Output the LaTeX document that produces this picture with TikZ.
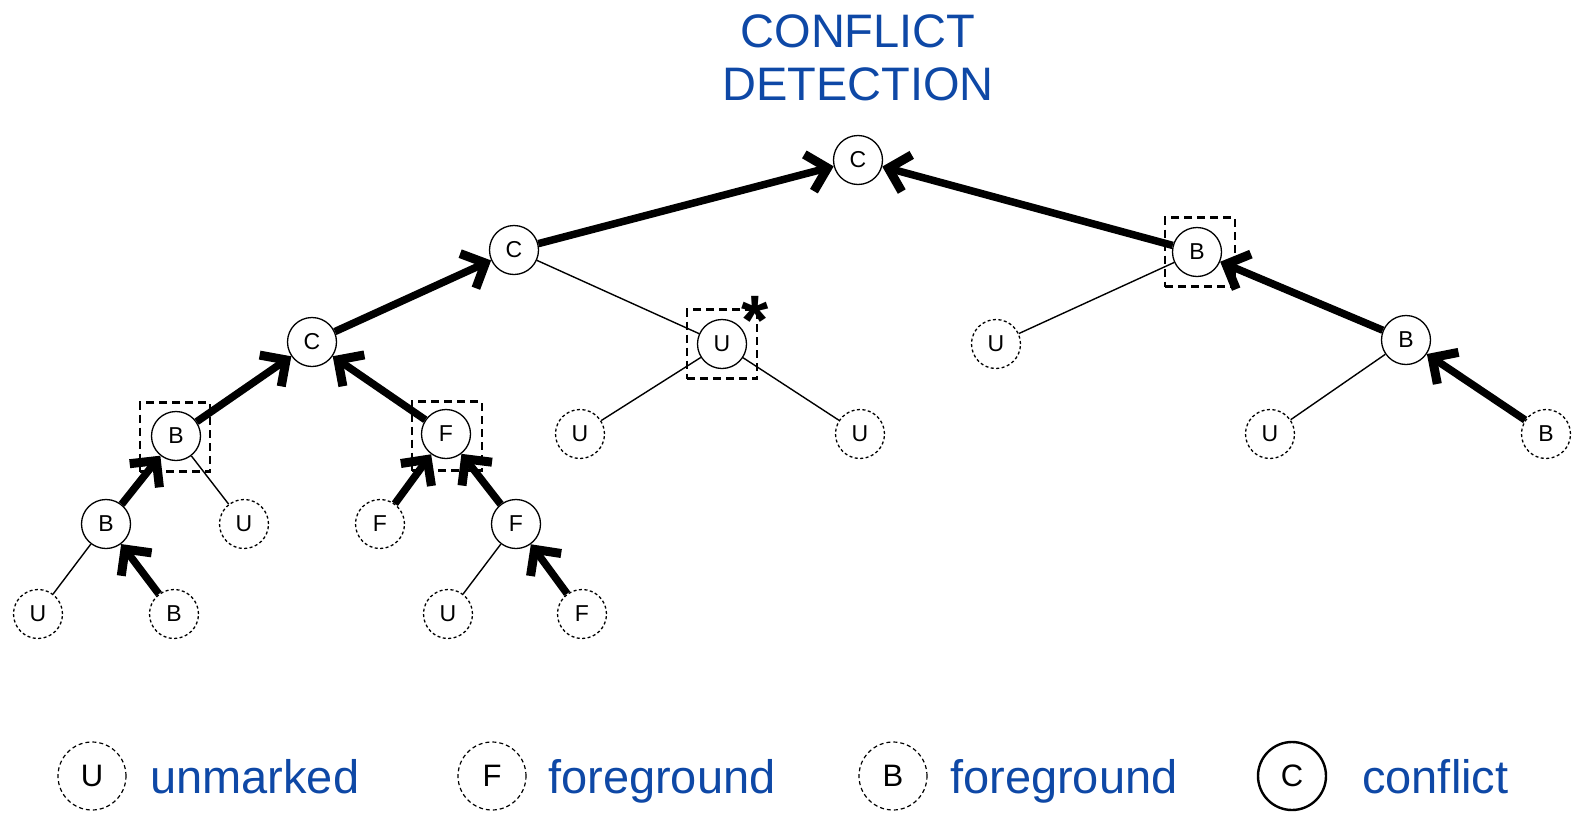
\documentclass[tikz,border=0pt]{standalone}
\usepackage{fontspec}
\setmainfont{Liberation Sans}
\usetikzlibrary{arrows.meta}
\definecolor{titleblue}{RGB}{14,72,166}

\tikzset{
  x=1pt, y=-1pt,
  solidnode/.style={circle, draw, fill=white, line width=1.3pt, minimum size=49pt,
    inner sep=0pt, font=\fontsize{23}{23}\selectfont},
  dashnode/.style={solidnode, dash pattern=on 3pt off 2.5pt},
  tree/.style={line width=1.4pt},
  flow/.style={line width=7.5pt, -{Straight Barb[length=19pt,width=38pt,line width=9pt,sharp]}},
  markbox/.style={draw, line width=2.4pt, dash pattern=on 8pt off 5pt,
    minimum width=70pt, minimum height=69pt, inner sep=0pt},
  legendtext/.style={text=titleblue, font=\fontsize{47}{53}\selectfont, inner sep=0pt},
  legendnode/.style={circle, draw, line width=1.2pt, dash pattern=on 4pt off 3pt,
    minimum size=68pt, inner sep=0pt, font=\fontsize{31}{31}\selectfont},
}

\begin{document}
\begin{tikzpicture}
\useasboundingbox (0,0) rectangle (1572,814);

% heading
\node[legendtext, anchor=base] (head1) at (858,47) {CONFLICT};
\node[legendtext, anchor=base] (head2) at (858,100) {DETECTION};

% marker boxes
\node[markbox] (boxB)  at (1200,252) {};
\node[markbox] (boxU)  at (722,344) {};
\node[markbox] (boxBl) at (175,437) {};
\node[markbox] (boxF)  at (447,436) {};
\node[anchor=center, inner sep=0pt, font=\fontsize{70}{70}\selectfont\bfseries] (star) at (755,320) {*};

% tree nodes
\node[solidnode] (root) at (858,160) {C};
\node[solidnode] (c2)   at (514,250) {C};
\node[solidnode] (b2)   at (1197,252) {B};
\node[solidnode] (c3)   at (312,342) {C};
\node[solidnode] (u3)   at (722,344) {U};
\node[dashnode]  (u3r)  at (996,344) {U};
\node[solidnode] (b3)   at (1406,340) {B};
\node[solidnode] (b4)   at (176,436) {B};
\node[solidnode] (f4)   at (446,434) {F};
\node[dashnode]  (u4a)  at (580,434) {U};
\node[dashnode]  (u4b)  at (860,434) {U};
\node[dashnode]  (u4c)  at (1270,434) {U};
\node[dashnode]  (b4r)  at (1546,434) {B};
\node[solidnode] (b5)   at (106,524) {B};
\node[dashnode]  (u5)   at (244,524) {U};
\node[dashnode]  (f5a)  at (380,524) {F};
\node[solidnode] (f5b)  at (516,524) {F};
\node[dashnode]  (u6a)  at (38,614) {U};
\node[dashnode]  (b6)   at (174,614) {B};
\node[dashnode]  (u6b)  at (448,614) {U};
\node[dashnode]  (f6)   at (582,614) {F};

% plain tree edges
\draw[tree] (c2) -- (u3);
\draw[tree] (b2) -- (u3r);
\draw[tree] (u3) -- (u4a);
\draw[tree] (u3) -- (u4b);
\draw[tree] (b3) -- (u4c);
\draw[tree] (b4) -- (u5);
\draw[tree] (b5) -- (u6a);
\draw[tree] (f5b) -- (u6b);

% propagation arrows
\draw[flow] (c2) -- (root);
\draw[flow] (b2) -- (root);
\draw[flow] (c3) -- (c2);
\draw[flow] (b3) -- (b2);
\draw[flow] (b4) -- (c3);
\draw[flow] (f4) -- (c3);
\draw[flow] (b4r) -- (b3);
\draw[flow] (b5) -- (b4);
\draw[flow] (f5a) -- (f4);
\draw[flow] (f5b) -- (f4);
\draw[flow] (b6) -- (b5);
\draw[flow] (f6) -- (f5b);

% legend
\node[legendnode] (lu) at (92,776) {U};
\node[legendtext, anchor=base west] (lut) at (150,793) {unmarked};
\node[legendnode] (lf) at (492,776) {F};
\node[legendtext, anchor=base west] (lft) at (548,793) {foreground};
\node[legendnode] (lb) at (893,776) {B};
\node[legendtext, anchor=base west] (lbt) at (950,793) {foreground};
\node[legendnode, solid, line width=2.4pt] (lc) at (1292,776) {C};
\node[legendtext, anchor=base west] (lct) at (1362,793) {conflict};
\end{tikzpicture}
\end{document}
